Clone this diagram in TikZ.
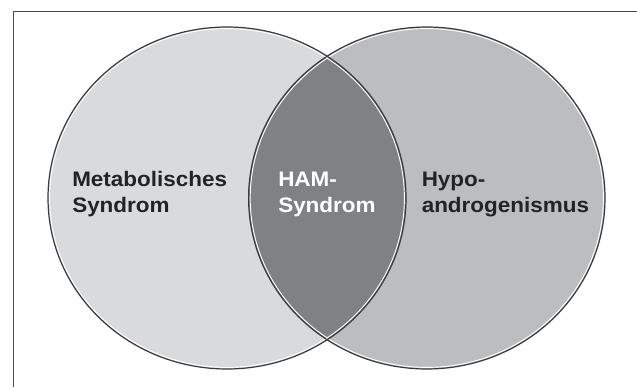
\documentclass[tikz,border=0pt]{standalone}
\usepackage{fontspec}
\newfontfamily\vennfont{Liberation Sans}[FakeStretch=1.07]

\definecolor{metabgray}{HTML}{D9DADC}
\definecolor{hypogray}{HTML}{BCBDBF}
\definecolor{hamgray}{HTML}{808184}
\definecolor{rimgray}{HTML}{3A3A3C}
\definecolor{framegray}{HTML}{4A4A4A}
\definecolor{labelblack}{HTML}{232323}

\begin{document}
\begin{tikzpicture}[x=0.75pt,y=0.75pt,
  every node/.style={inner sep=0pt,anchor=base west,align=left,
    font=\vennfont\bfseries\fontsize{15.75}{18.9}\selectfont},
  rim/.style={draw=rimgray,line width=0.9pt},
  shine/.style={draw=white,line width=0.7pt}]

  \useasboundingbox (0,0) rectangle (637,387);

  % frame, only its left and top sides show
  \draw[framegray,line width=1.1pt] (13.5,0) -- (13.5,375.3) -- (637,375.3);

  % the two sets
  \fill[metabgray] (227,189) ellipse [x radius=179, y radius=171];
  \fill[hypogray] (426.8,189) ellipse [x radius=178.2, y radius=171];
  \begin{scope}
    \clip (227,189) ellipse [x radius=179, y radius=171];
    \fill[hamgray] (426.8,189) ellipse [x radius=178.2, y radius=171];
  \end{scope}

  % rims with a light edge inside
  \draw[shine] (227,189) ellipse [x radius=177.4, y radius=169.4];
  \draw[shine] (426.8,189) ellipse [x radius=176.6, y radius=169.4];
  \draw[rim] (227,189) ellipse [x radius=179, y radius=171];
  \draw[rim] (426.8,189) ellipse [x radius=178.2, y radius=171];

  % labels (base sits on the second line)
  \node[text=labelblack] (metab) at (72,175) {Metabolisches\\Syndrom};
  \node[text=white] (ham) at (278,175) {HAM-\\Syndrom};
  \node[text=labelblack] (hypo) at (421.5,175) {Hypo-\\androgenismus};
\end{tikzpicture}
\end{document}
